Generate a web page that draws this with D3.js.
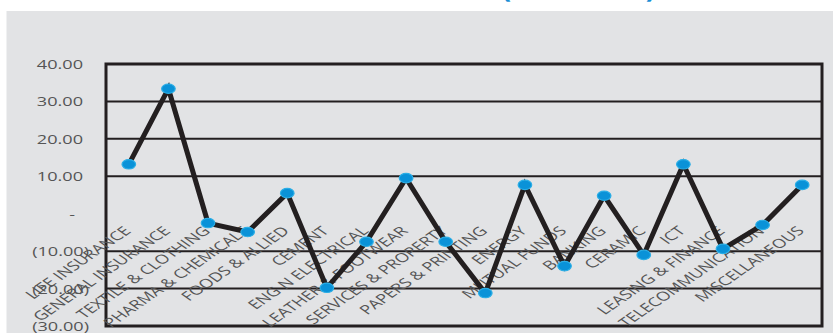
<!DOCTYPE html>
<html>
<head>
<meta charset="utf-8">
<script src="https://cdn.jsdelivr.net/npm/d3@7/dist/d3.min.js"></script>
<style>
html,body{margin:0;padding:0;background:#fff;}
svg{display:block;}
</style>
</head>
<body>
<svg id="chart" width="833" height="333"></svg>
<script>
const categories = ["LIFE INSURANCE","GENERAL INSURANCE","TEXTILE & CLOTHING","PHARMA & CHEMICALS","FOODS & ALLIED","CEMENT","ENG N ELECTRICAL","LEATHER & FOOTWEAR","SERVICES & PROPERTY","PAPERS & PRINTING","ENERGY","MUTUAL FUNDS","BANKING","CERAMIC","ICT","LEASING & FINANCE","TELECOMMUNICATION","MISCELLANEOUS"];
const returns = [13.2,33.4,-2.5,-4.9,5.5,-19.8,-7.5,9.5,-7.5,-21.2,7.7,-14.0,4.8,-11.0,13.2,-9.4,-3.0,7.7];
const yTicks = [40,30,20,10,0,-10,-20,-30];
const titleText = "SECTORAL RETURN (YTD 2023)";

const svg = d3.select("#chart");
const SX = 1.45;

svg.append("rect").attr("x",6.5).attr("y",11).attr("width",833).attr("height",330).attr("fill","#e2e3e5");

// title, cut off at the top edge as in the reference
svg.append("text").attr("x",656).attr("y",-3).attr("text-anchor","end")
  .attr("font-family","Open Sans, sans-serif")
  .attr("font-size",30).attr("font-weight","bold").attr("fill","#1a8fd6").text(titleText);

const L = 106, R = 822, T = 64, B = 326;
const x = d3.scaleBand().domain(categories).range([109, 822]);
const y = d3.scaleLinear().domain([-30, 40]).range([B, T]);
const cx = d => x(d) + x.bandwidth()/2;

// gridlines (no zero line)
svg.append("g").selectAll("line").data(yTicks.filter(t => t !== 0 && t !== 40 && t !== -30))
  .join("line").attr("x1",L).attr("x2",R).attr("y1",d=>y(d)).attr("y2",d=>y(d))
  .attr("stroke","#231f20").attr("stroke-width",2);

// frame
svg.append("rect").attr("x",L).attr("y",T).attr("width",R-L).attr("height",B-T)
  .attr("fill","none").attr("stroke","#231f20").attr("stroke-width",3);

// y labels
const fmt = v => v === 0 ? "-" : (v < 0 ? "(" + Math.abs(v).toFixed(2) + ")" : v.toFixed(2));
svg.append("g").selectAll("text").data(yTicks).join("text")
  .attr("transform", d => `translate(${d===0?75:(d<0?89:83)},${y(d)+5}) scale(${SX},1)`)
  .attr("text-anchor","end").attr("font-family","Open Sans, sans-serif").attr("font-size",12.5)
  .attr("fill","#555").text(fmt);

// category labels
svg.append("g").selectAll("text").data(categories).join("text")
  .attr("transform", d => `translate(${cx(d)+3},${y(0)+18}) scale(${SX},1) rotate(-45)`)
  .attr("text-anchor","end").attr("font-family","Open Sans, sans-serif").attr("font-size",12.6)
  .attr("fill","#555").text(d => d);

// line
const line = d3.line().x((d,i)=>cx(categories[i])).y(d=>y(d));
svg.append("path").datum(returns).attr("d",line).attr("fill","none")
  .attr("stroke","#231f20").attr("stroke-width",5).attr("stroke-linejoin","miter");

// markers
svg.append("g").selectAll("ellipse").data(returns).join("ellipse")
  .attr("cx",(d,i)=>cx(categories[i])).attr("cy",d=>y(d)).attr("rx",6.8).attr("ry",4.7)
  .attr("fill","#0a92d8").attr("stroke","#2aaee6").attr("stroke-width",1.2);
</script>
</body>
</html>
